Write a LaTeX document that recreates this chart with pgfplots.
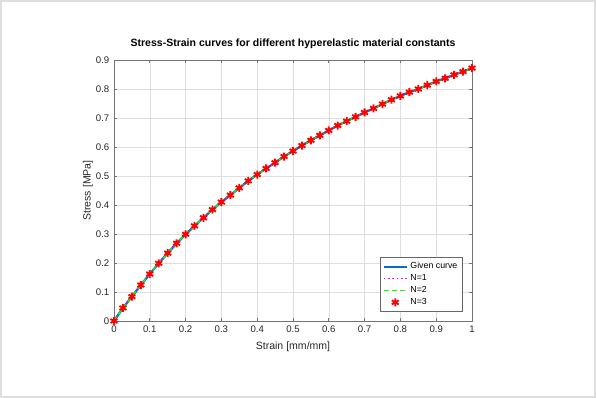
\documentclass[border=0pt]{standalone}
\usepackage{pgfplots}
\pgfplotsset{compat=1.18}
\usepackage{pgfplotstable}
\usepackage{fontspec}
\setmainfont{Liberation Sans}
\definecolor{mblue}{rgb}{0,0.447,0.741}
\definecolor{mmag}{rgb}{1,0,1}
\definecolor{mgreen}{rgb}{0,1,0}
\definecolor{axgray}{rgb}{0.45,0.45,0.45}
\definecolor{txtgray}{rgb}{0.15,0.15,0.15}

\pgfplotstableread{
x y
0 0
0.025 0.045
0.05 0.084
0.075 0.124
0.1 0.162
0.125 0.199
0.15 0.234
0.175 0.268
0.2 0.299
0.225 0.328
0.25 0.356
0.275 0.384
0.3 0.410
0.325 0.434
0.35 0.459
0.375 0.483
0.4 0.505
0.425 0.526
0.45 0.546
0.475 0.567
0.5 0.586
0.525 0.605
0.55 0.623
0.575 0.640
0.6 0.657
0.625 0.674
0.65 0.689
0.675 0.704
0.7 0.719
0.725 0.733
0.75 0.748
0.775 0.763
0.8 0.776
0.825 0.789
0.85 0.800
0.875 0.813
0.9 0.826
0.925 0.837
0.95 0.849
0.975 0.860
1.0 0.872
}\data

\begin{document}
\begin{tikzpicture}
\useasboundingbox (0,0) rectangle (447pt,298.5pt);
\draw[black!13, line width=1.5pt] (0.75pt,0.75pt) rectangle (446.25pt,297.75pt);
\begin{axis}[
  at={(85.5pt,57.75pt)}, anchor=south west,
  scale only axis, width=268.5pt, height=195.75pt,
  xmin=0, xmax=1, ymin=0, ymax=0.9,
  xtick={0,0.1,...,1.01}, ytick={0,0.1,...,0.91},
  /pgf/number format/assume math mode=true,
  tick label style={font=\fontsize{7.2}{8}\selectfont, text=txtgray},
  label style={font=\fontsize{7.9}{9}\selectfont, text=txtgray},
  xlabel={Strain [mm/mm]},
  ylabel={Stress [MPa]},
  xlabel style={at={(axis description cs:0.5,-0.1)}, anchor=center},
  ylabel style={at={(axis description cs:-0.073,0.5)}, anchor=center},
  title={Stress-Strain curves for different hyperelastic material constants},
  title style={font=\bfseries\fontsize{7.9}{9}\selectfont, at={(axis description cs:0.5,1.031)}, anchor=center},
  grid=major,
  major grid style={black!13, line width=0.4pt},
  axis line style={axgray, line width=0.6pt},
  tick style={axgray, line width=0.5pt},
  tick align=inside,
  major tick length=2.6pt,
  clip=false,
  legend style={at={(0.975,0.034)}, anchor=south east, draw=black!60, fill=white,
    font=\fontsize{6.6}{7.5}\selectfont, row sep=-1.2pt, inner sep=2pt,
    line width=0.5pt},
  legend cell align=left,
]
\addplot[mblue, line width=1.7pt] table[x=x,y=y] {\data};
\addlegendentry{Given curve}
\addplot[mmag, line width=1.2pt, dotted] table[x=x,y=y] {\data};
\addlegendentry{N=1}
\addplot[mgreen, line width=1.1pt, dash pattern=on 3.5pt off 2.5pt] table[x=x,y=y] {\data};
\addlegendentry{N=2}
\addplot[only marks, red, mark=asterisk, mark size=3pt, mark options={line width=1.4pt}] table[x=x,y=y] {\data};
\addlegendentry{N=3}
\end{axis}
\end{tikzpicture}
\end{document}
